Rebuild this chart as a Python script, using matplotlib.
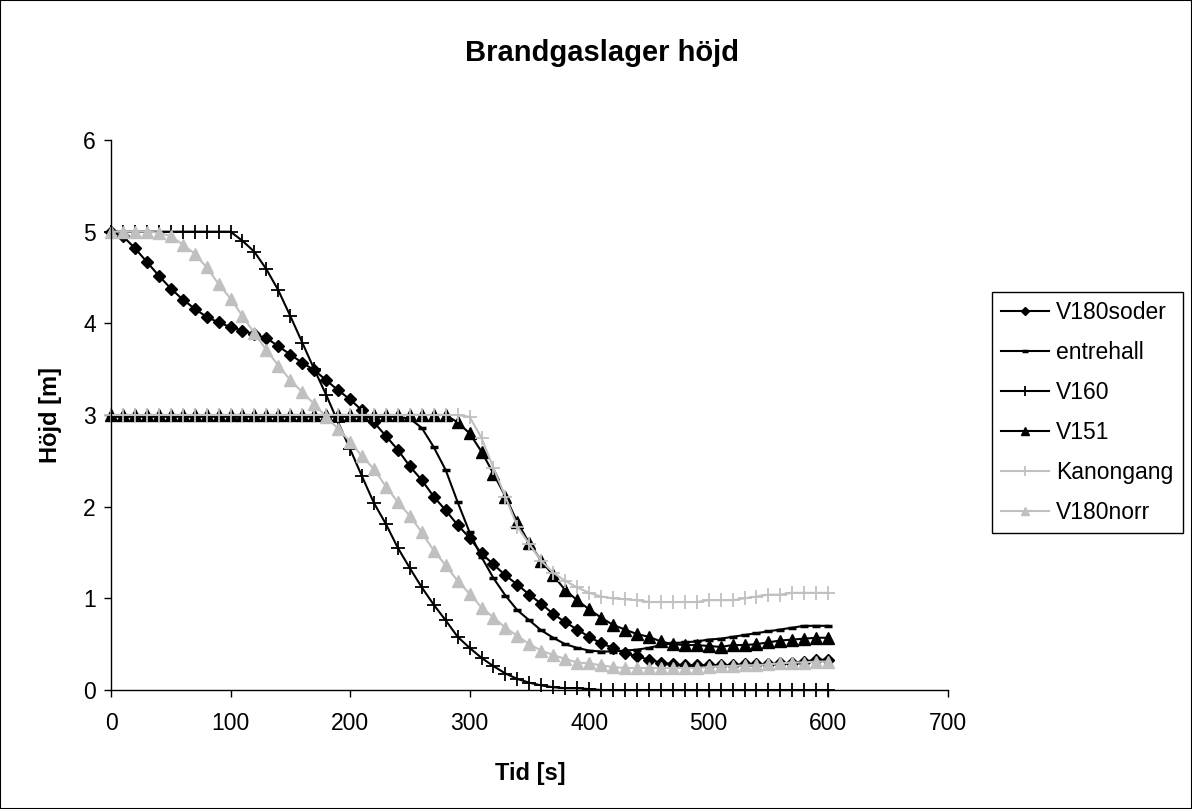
import numpy as np
import matplotlib
matplotlib.use("Agg")
import matplotlib.pyplot as plt
from matplotlib.patches import Rectangle

plt.rcParams['font.family'] = ['Liberation Sans', 'DejaVu Sans']

# tid i sekunder, mätpunkt var 10:e sekund
tid = np.arange(0, 610, 10)

v180soder = [5.00, 4.95, 4.82, 4.67, 4.52, 4.38, 4.26, 4.16, 4.07, 4.01,
             3.96, 3.92, 3.88, 3.84, 3.75, 3.66, 3.57, 3.49, 3.38, 3.27,
             3.17, 3.05, 2.92, 2.77, 2.62, 2.44, 2.29, 2.11, 1.96, 1.80,
             1.66, 1.49, 1.37, 1.25, 1.15, 1.04, 0.94, 0.83, 0.74, 0.66,
             0.58, 0.51, 0.46, 0.40, 0.37, 0.33, 0.30, 0.28, 0.27, 0.27,
             0.27, 0.27, 0.27, 0.28, 0.28, 0.28, 0.29, 0.30, 0.31, 0.33,
             0.33]

entrehall = [2.98] * 25 + [2.96, 2.86, 2.65, 2.40, 2.05,
             1.72, 1.45, 1.22, 1.03, 0.87, 0.76, 0.65, 0.57, 0.50, 0.46,
             0.43, 0.42, 0.42, 0.43, 0.44, 0.46, 0.49, 0.51, 0.52, 0.53,
             0.55, 0.56, 0.58, 0.60, 0.62, 0.64, 0.66, 0.68, 0.70, 0.70,
             0.70]

v160 = [5.00] * 11 + [4.90, 4.78, 4.59, 4.36, 4.08, 3.79, 3.50, 3.22, 2.92,
        2.63, 2.33, 2.04, 1.81, 1.55, 1.33, 1.12, 0.93, 0.76, 0.58,
        0.46, 0.35, 0.26, 0.18, 0.12, 0.08, 0.05, 0.03, 0.02, 0.02,
        0.01] + [0.00] * 20

v151 = [3.00] * 29 + [2.92,
        2.80, 2.60, 2.36, 2.11, 1.83, 1.60, 1.41, 1.25, 1.09, 0.98,
        0.88, 0.79, 0.71, 0.66, 0.61, 0.58, 0.53, 0.50, 0.49, 0.49,
        0.48, 0.47, 0.49, 0.49, 0.50, 0.52, 0.54, 0.55, 0.56, 0.57,
        0.57]

kanongang = [3.00] * 30 + [
             2.98, 2.75, 2.42, 2.11, 1.78, 1.59, 1.41, 1.28, 1.19, 1.12,
             1.06, 1.02, 1.00, 0.99, 0.98, 0.96, 0.96, 0.96, 0.96, 0.96,
             0.98, 0.98, 0.98, 1.00, 1.02, 1.04, 1.04, 1.06, 1.06, 1.06,
             1.06]

v180norr = [5.00, 5.00, 5.00, 5.00, 4.99, 4.95, 4.86, 4.76, 4.61, 4.43,
            4.27, 4.08, 3.89, 3.71, 3.54, 3.38, 3.25, 3.12, 2.98, 2.85,
            2.71, 2.55, 2.41, 2.22, 2.05, 1.90, 1.72, 1.52, 1.36, 1.19,
            1.05, 0.90, 0.79, 0.68, 0.59, 0.50, 0.43, 0.38, 0.34, 0.30,
            0.29, 0.27, 0.25, 0.24, 0.24, 0.24, 0.24, 0.24, 0.24, 0.24,
            0.25, 0.26, 0.26, 0.27, 0.27, 0.28, 0.29, 0.30, 0.30, 0.31,
            0.31]

grey = "#c0c0c0"

fig = plt.figure(figsize=(11.92, 8.09), dpi=100)
ax = fig.add_axes([111 / 1192, 1 - 690 / 809, 836.7 / 1192, 550 / 809])

ax.plot(tid, v180soder, color="black", lw=1.5, marker="D", ms=6, label="V180soder")
ax.plot(tid, entrehall, color="black", lw=1.5, marker="_", ms=6, mew=2.5, label="entrehall")
ax.plot(tid, v160, color="black", lw=1.5, marker="+", ms=10, mew=1.3, label="V160")
ax.plot(tid, v151, color="black", lw=1.5, marker="^", ms=8, label="V151")
ax.plot(tid, kanongang, color=grey, lw=1.5, marker="+", ms=10, mew=1.3, label="Kanongang")
ax.plot(tid, v180norr, color=grey, lw=1.5, marker="^", ms=8.5, label="V180norr")

ax.set_xlim(0, 700)
ax.set_ylim(0, 6)
ax.set_xticks(range(0, 701, 100))
ax.set_yticks(range(0, 7))
for s in ["top", "right"]:
    ax.spines[s].set_visible(False)
ax.spines["left"].set_linewidth(1)
ax.spines["bottom"].set_linewidth(1)
ax.tick_params(axis="both", direction="out", length=5, width=1, labelsize=16.5)
ax.tick_params(axis="x", pad=11)
ax.tick_params(axis="y", pad=6)
for m in ax.get_lines():
    m.set_clip_on(False)

fig.text(602 / 1192, 1 - 61 / 809, "Brandgaslager höjd", ha="center", va="baseline",
         fontsize=21, fontweight="bold")
fig.text(530 / 1192, 1 - 780 / 809, "Tid [s]", ha="center", va="baseline",
         fontsize=17, fontweight="bold")
fig.text(50 / 1192, 1 - 415 / 809, "Höjd [m]", ha="center", va="center",
         rotation=90, fontsize=17, fontweight="bold")

leg = ax.legend(loc="upper left", bbox_to_anchor=(992 / 1192, 1 - 292 / 809),
                bbox_transform=fig.transFigure, fontsize=16.5, frameon=True,
                fancybox=False, edgecolor="black", framealpha=1,
                handlelength=2.1, handletextpad=0.3, borderpad=0.4,
                labelspacing=0.74, markerscale=0.7, borderaxespad=0)
leg.get_frame().set_linewidth(1)

fig.patches.append(Rectangle((0, 0), 1, 1, transform=fig.transFigure, fill=False,
                             edgecolor="black", lw=1.5))

fig.savefig("out.png", dpi=100)
